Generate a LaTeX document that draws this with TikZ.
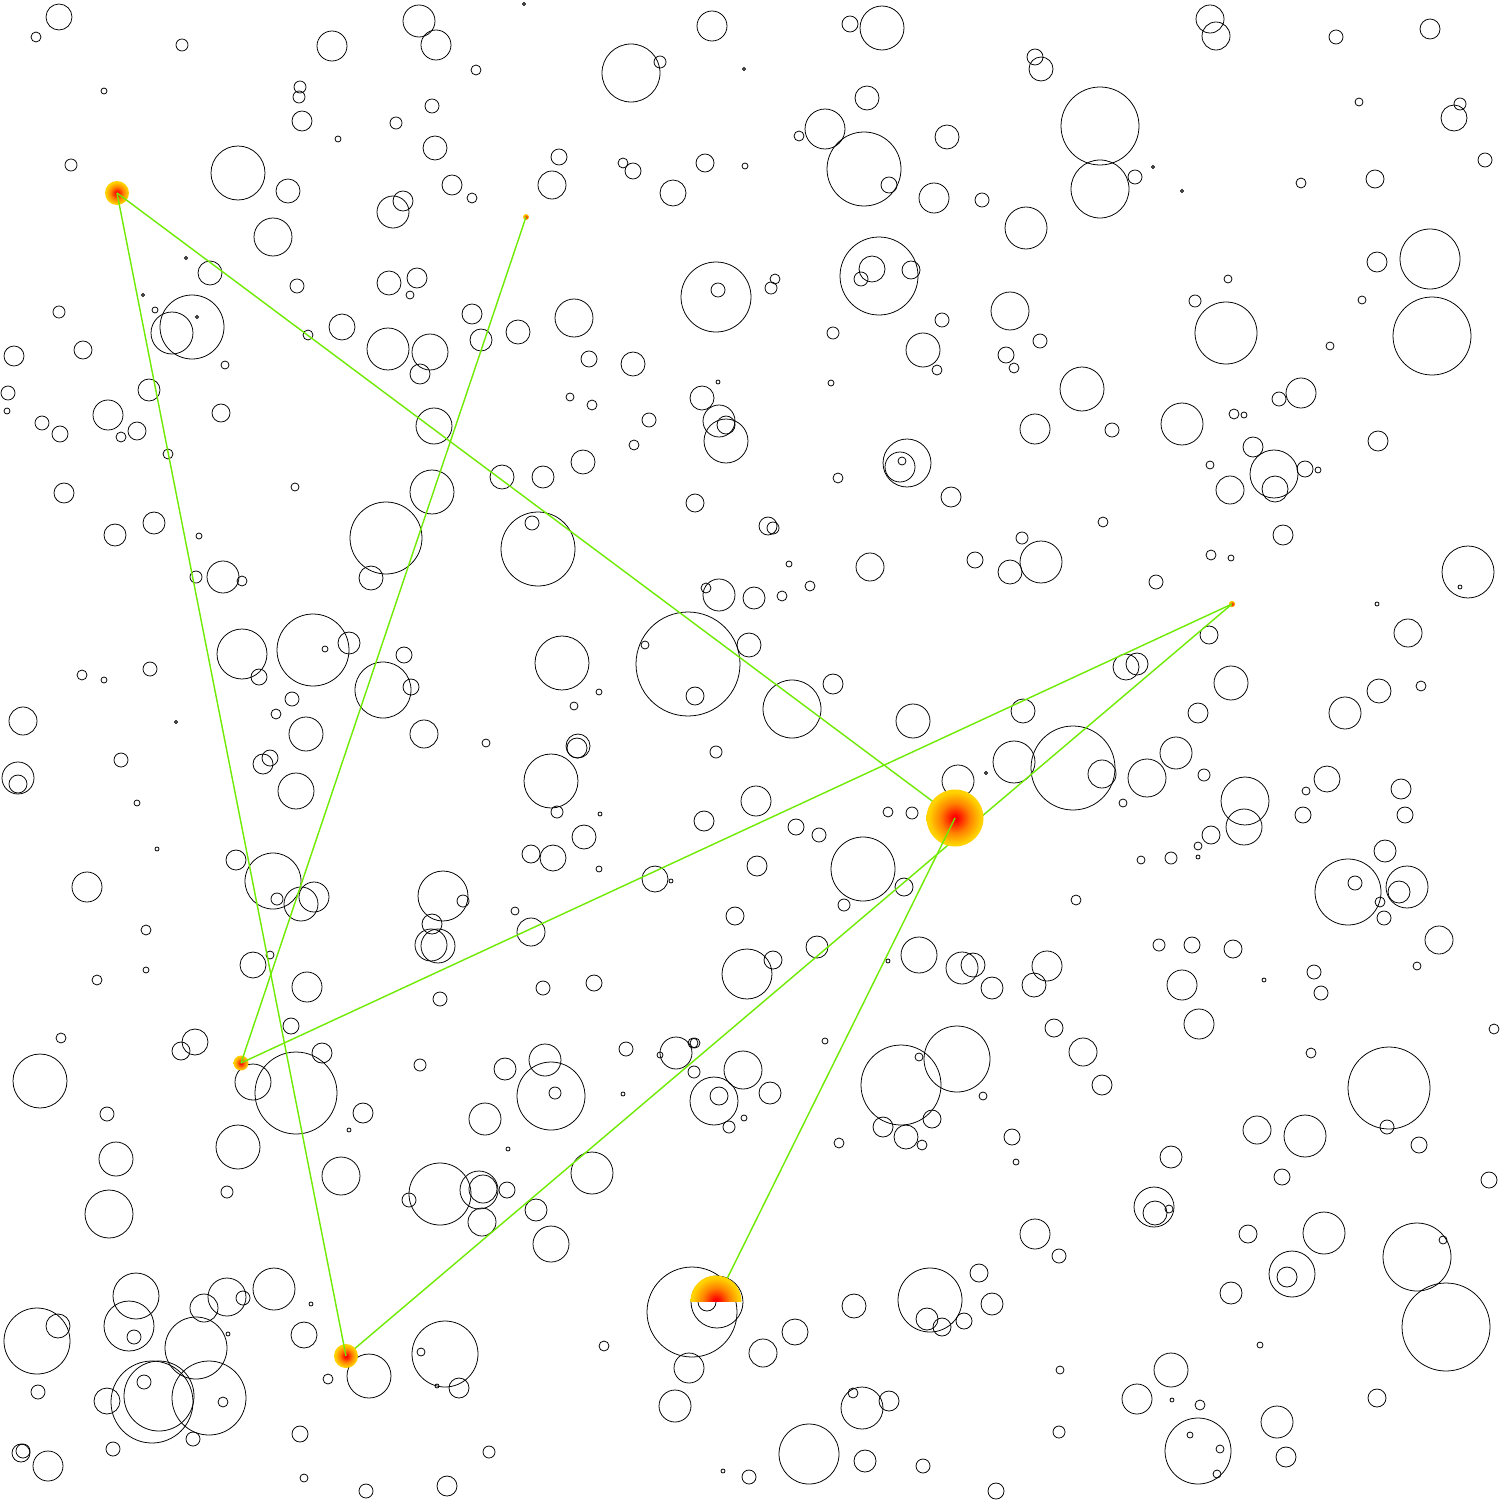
\documentclass[tikz,border=0pt]{standalone}
\definecolor{linkgreen}{RGB}{110,235,0}
\definecolor{stargold}{RGB}{255,210,0}
\definecolor{starorange}{RGB}{255,130,0}
\pgfdeclareradialshading{starball}{\pgfpoint{0bp}{0bp}}{color(0bp)=(red); color(2bp)=(red); color(13bp)=(starorange); color(23bp)=(stargold); color(50bp)=(stargold)}
\tikzset{
  crater/.style={draw=black, line width=0.22pt},
  link/.style={draw=linkgreen, line width=0.4pt},
  starshade/.style={shading=starball}
}
\begin{document}
\begin{tikzpicture}[x=0.1mm,y=-0.1mm]
\fill[white] (0,0) rectangle (1500,1500);
\useasboundingbox (0,0) rectangle (1500,1500);
% background circles
\foreach \x/\y/\r in {
59/17/13, 36/37/5, 182/45/6, 104/91/3, 332/46/15, 419/21/16, 436/45/15, 476/70/5, 300/87/6, 299/97/6, 302/121/10, 338/139/3, 396/123/6, 432/106/7, 435/148/12, 71/165/6, 238/173/27, 288/191/12, 452/185/10, 472/198/5, 403/201/10, 393/212/16, 273/237/19, 186/258/1.5, 210/273/12, 297/286/7, 389/283/12, 417/278/10, 410/295/4, 143/295/1.5, 59/312/6, 155/310/3, 197/317/1.5, 192/327/32, 172/333/21, 308/335/5, 342/327/13, 388/349/21, 430/352/18, 420/374/10, 472/314/10, 481/340/11, 14/356/10, 83/350/9, 225/365/4, 149/390/11, 8/393/7, 7/411/3, 42/423/7, 60/434/8, 108/415/15, 121/437/5, 137/431/9, 221/413/9, 168/454/5, 295/487/4, 434/426/18, 432/492/22, 64/493/10, 502/477/12,
524/4/1.5, 712/26/15, 850/24/8, 882/28/22, 631/73/29, 660/62/6, 744/69/1.5, 867/98/12, 825/129/20, 799/136/5, 864/169/37, 889/185/8, 947/137/12, 934/198/15, 982/200/7, 559/157/8, 552/185/14, 623/163/5, 633/171/8, 705/163/9, 745/166/3, 673/193/13, 716/297/35, 718/290/7, 775/279/5, 771/288/6, 879/276/39, 872/269/13, 861/279/7, 911/270/9, 1010/311/19, 574/318/19, 518/332/12, 589/359/8, 633/364/12, 833/333/6, 942/320/7, 923/350/17, 937/370/5, 1006/355/8, 718/382/2, 831/383/3, 570/397/4, 592/405/5, 702/398/12, 719/421/16, 726/425/9, 726/441/22, 649/420/7, 634/445/5, 583/462/12, 543/477/11, 907/463/24, 900/467/15, 902/461/4, 838/478/5, 951/497/10, 695/503/9,
1210/19/14, 1216/36/14, 1336/37/7, 1430/29/10, 1035/57/8, 1041/69/12, 1100/126/39, 1100/189/29, 1135/177/7, 1153/167/1.5, 1182/191/1.5, 1359/102/4, 1460/104/6, 1454/118/13, 1485/160/7, 1301/183/5, 1375/179/9, 1026/228/21, 1377/262/10, 1430/259/30, 1432/336/39, 1362/300/4, 1228/279/4, 1195/301/6, 1226/333/31, 1330/346/4, 1040/341/7, 1014/368/5, 1082/389/22, 1035/429/15, 1112/430/7, 1182/424/21, 1234/414/5, 1244/415/3, 1279/399/7, 1301/393/15, 1378/441/10, 1253/447/10, 1210/465/4, 1274/474/24, 1305/469/8, 1318/470/3, 1275/489/13, 1230/490/14,
154/523/11, 115/535/11, 199/536/3, 196/577/6, 223/577/16, 242/581/5, 386/538/36, 371/578/12, 538/549/37, 242/654/25, 259/677/8, 313/650/36, 325/649/3, 349/643/11, 404/655/8, 383/690/28, 411/687/8, 424/734/14, 486/743/4, 292/699/7, 276/714/5, 306/734/17, 82/675/5, 104/680/3, 150/669/7, 23/721/14, 176/722/1.5, 121/760/7, 18/778/16, 18/784/9, 263/764/10, 270/758/8, 296/791/18, 137/803/3, 157/849/2, 236/860/10, 273/881/28, 277/899/6, 301/904/17, 314/897/15, 87/887/15, 443/896/25, 463/901/6, 432/924/10, 431/945/16, 438/946/17, 146/930/5, 146/970/3, 97/980/5, 253/965/13, 270/955/4, 307/987/15, 440/999/7,
532/523/7, 768/526/9, 773/528/6, 870/567/14, 975/560/8, 1010/572/12, 789/564/3, 810/586/5, 782/596/5, 719/595/16, 706/588/5, 754/598/11, 688/664/52, 645/645/4, 695/696/9, 749/645/12, 562/663/27, 599/692/3, 574/706/4, 792/709/29, 833/684/10, 913/721/17, 578/746/12, 577/748/10, 716/752/6, 551/781/27, 557/812/6, 600/814/2, 958/781/16, 986/773/1.5, 1014/762/21, 756/801/15, 704/821/10, 888/812/5, 912/813/6, 796/827/8, 819/835/7, 584/837/12, 531/854/9, 553/858/13, 599/869/3, 655/879/13, 671/881/2, 863/869/32, 904/887/9, 844/905/6, 757/866/10, 515/911/4, 531/932/14, 735/916/9, 817/947/11, 773/960/9, 747/974/25, 888/961/2, 919/955/18, 962/968/16, 973/965/12, 992/988/11, 543/988/7, 594/983/8,
1103/522/5, 1283/535/10, 1022/538/6, 1041/562/21, 1211/555/5, 1231/558/3, 1156/582/7, 1377/604/2, 1468/572/26, 1460/587/2, 1209/635/9, 1408/633/14, 1126/667/13, 1137/664/11, 1231/683/17, 1379/691/12, 1421/686/5, 1023/711/12, 1198/713/10, 1345/713/16, 1073/768/42, 1102/774/14, 1176/753/16, 1147/778/19, 1204/775/6, 1123/803/4, 1327/779/13, 1306/791/4, 1401/789/10, 1303/815/8, 1405/815/8, 1245/801/24, 1244/827/18, 1211/835/9, 1198/846/4, 1198/857/2, 1141/860/4, 1171/858/6, 1385/851/11, 1348/892/33, 1355/883/7, 1407/887/21, 1399/892/11, 1380/902/5, 1384/918/7, 1076/900/5, 1439/940/14, 1159/945/6, 1192/945/8, 1233/949/9, 1417/966/4, 1047/966/15, 1034/985/12, 1182/985/15, 1264/980/2, 1314/972/7, 1321/993/7,
61/1038/5, 195/1042/13, 181/1051/9, 291/1026/8, 322/1053/10, 420/1065/6, 505/1069/11, 253/1082/18, 296/1093/41, 40/1081/27, 107/1114/7, 363/1113/10, 349/1130/2, 485/1119/16, 238/1147/22, 116/1159/17, 341/1176/19, 227/1192/6, 109/1214/24, 440/1194/31, 409/1200/7, 479/1190/19, 483/1189/14, 482/1222/14, 136/1296/23, 129/1326/25, 134/1337/7, 58/1326/12, 37/1341/33, 227/1297/19, 204/1308/14, 243/1298/7, 274/1289/21, 311/1304/2, 228/1334/2, 196/1348/31, 304/1335/13, 445/1354/33, 421/1352/4, 369/1376/22, 328/1379/5, 459/1388/10, 437/1386/2, 152/1402/41, 159/1396/35, 144/1382/7, 209/1398/37, 223/1402/5, 107/1401/13, 38/1392/7, 193/1439/7, 113/1449/7, 21/1453/9, 23/1451/7, 48/1466/15, 300/1434/8, 304/1478/4, 366/1491/7, 447/1486/10, 489/1452/6,
545/1060/16, 551/1096/34, 555/1093/6, 626/1049/7, 676/1053/16, 660/1055/3, 695/1043/5, 693/1043/5, 694/1072/6, 623/1094/2, 743/1070/19, 714/1101/24, 719/1096/9, 770/1093/11, 744/1118/3, 729/1127/6, 508/1149/2, 825/1041/3, 901/1085/40, 957/1059/33, 919/1057/4, 983/1096/4, 883/1127/10, 906/1137/12, 922/1145/5, 932/1119/9, 839/1143/5, 592/1173/21, 507/1190/8, 536/1210/11, 551/1244/18, 692/1312/45, 717/1302/26, 707/1302/9, 604/1346/5, 689/1368/15, 675/1406/16, 763/1353/14, 795/1332/13, 854/1306/12, 930/1300/32, 927/1319/11, 942/1327/9, 964/1321/8, 979/1273/9, 992/1304/11, 862/1408/21, 853/1393/5, 889/1401/10, 809/1454/30, 865/1461/11, 923/1466/7, 749/1477/7, 723/1471/2, 996/1491/8,
1054/1028/9, 1083/1052/14, 1102/1085/10, 1199/1024/15, 1311/1053/5, 1494/1029/5, 1389/1088/41, 1387/1127/7, 1419/1145/8, 1012/1137/8, 1016/1162/3, 1171/1157/11, 1257/1130/14, 1305/1136/21, 1282/1177/8, 1489/1180/8, 1154/1207/20, 1155/1213/12, 1169/1209/4, 1035/1234/15, 1059/1256/7, 1248/1234/9, 1324/1233/21, 1292/1274/23, 1287/1277/10, 1231/1293/11, 1417/1257/34, 1443/1240/4, 1446/1327/44, 1260/1345/3, 1060/1370/4, 1171/1370/17, 1137/1399/15, 1172/1400/2, 1200/1405/5, 1277/1422/16, 1286/1457/10, 1059/1432/6, 1198/1451/33, 1190/1435/3, 1220/1449/4, 1217/1474/4, 1377/1398/9}
  \draw[crater] (\x,\y) circle (\r);
% star centres
\coordinate (A) at (117,193);
\coordinate (B) at (526,217);
\coordinate (C) at (1232,604);
\coordinate (D) at (955,818);
\coordinate (E) at (241,1063);
\coordinate (F) at (346,1356);
\coordinate (G) at (716,1301);
% drawing in layered order
\shade[starshade] (E) circle (7.5);
\shade[starshade] (B) circle (3);
\shade[starshade] (C) circle (3.2);
\draw[link] (B) -- (E);
\draw[link] (E) -- (C);
\draw[link] (C) -- (F);
\shade[starshade] (F) circle (12);
\shade[starshade] (A) circle (12);
\draw[link] (A) -- (F);
\draw[link] (A) -- (D);
\shade[starshade] (D) circle (28.5);
\draw[link] (D) -- (G);
\begin{scope}
  \clip (689,1270) rectangle (744,1301);
  \shade[starshade] (G) circle (25.5);
\end{scope}
\end{tikzpicture}
\end{document}
